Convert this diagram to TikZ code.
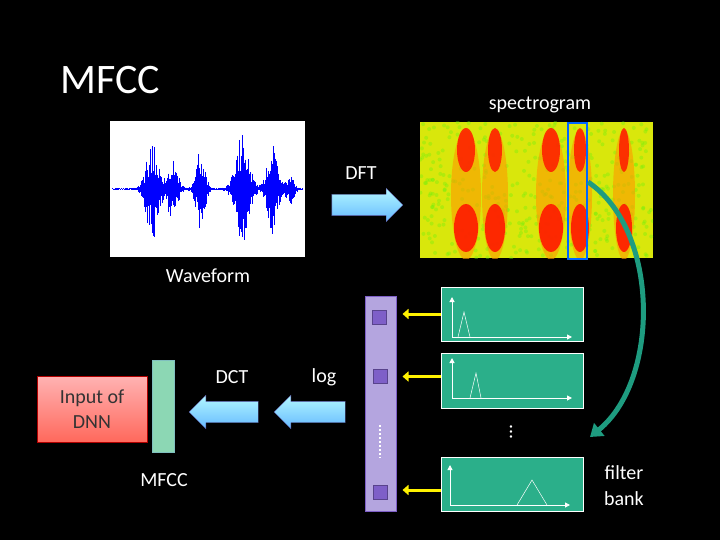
\documentclass[tikz,border=0pt]{standalone}
\usepackage{fontspec}
\setmainfont{Carlito}
\usetikzlibrary{arrows.meta,shapes.arrows}
\definecolor{fb}{HTML}{2BAF8A}
\definecolor{pur}{HTML}{B4A5DF}
\definecolor{purd}{HTML}{7E5FC8}
\definecolor{teal2}{HTML}{1E9C80}
\begin{document}
\begin{tikzpicture}[x=1pt,y=-1pt,
  txt/.style={text=white,font=\fontsize{20}{23}\selectfont,inner sep=0},
  fbox/.style={draw=white,line width=1pt,fill=fb},
  sq/.style={draw=purd!70!black,line width=1pt,fill=purd,minimum size=14pt,inner sep=0},
  yarr/.style={yellow,line width=3pt,-{Triangle[length=6pt,width=10pt]}},
  bigarr/.style={single arrow,draw=blue!30!gray,top color=blue!10!cyan!30!white,bottom color=cyan!55!blue!60!white,single arrow head extend=6pt,inner sep=0}]
\fill[black] (0,0) rectangle (720,540);
\useasboundingbox (0,0) rectangle (720,540);
\node[txt,font=\fontsize{42}{44}\selectfont] (title) at (110,80) {MFCC};
% waveform
\node[fill=white,minimum width=195pt,minimum height=136pt,inner sep=0] (wave) at (207.5,189) {};
\pgfmathsetseed{7}
\foreach \i in {0,...,190}{
  \pgfmathsetmacro{\x}{112+\i}
  \pgfmathsetmacro{\env}{1+50*exp(-((\x-152)/8)^2)+30*exp(-((\x-172)/7)^2)+55*exp(-((\x-242)/9)^2)+40*exp(-((\x-200)/6)^2)+45*exp(-((\x-272)/7)^2)+15*exp(-((\x-290)/5)^2)}
  \pgfmathsetmacro{\a}{\env*(0.3+0.7*rnd)}
  \pgfmathsetmacro{\b}{\env*(0.3+0.7*rnd)}
  \draw[blue,line width=0.8pt] (\x,189-\a) -- (\x,189+\b);
}
\node[txt] (wlab) at (208,276) {Waveform};
% spectrogram
\node[fill=yellow!85!green,minimum width=233pt,minimum height=136pt,inner sep=0] (spec) at (536.5,190) {};
\begin{scope}
\clip (420,122) rectangle (653,258);
\pgfmathsetseed{3}
\foreach \i in {0,...,400}{
  \pgfmathsetmacro{\x}{420+233*rnd}\pgfmathsetmacro{\y}{122+136*rnd}
  \fill[green!55!yellow!90!teal,opacity=0.35] (\x,\y) circle (2);
}
\foreach \cx/\w in {466/9,495/7,551/9,580/6,624/5}{
  \pgfmathsetmacro{\wa}{\w+6}\pgfmathsetmacro{\wb}{\w+3}
  \fill[orange!80!yellow,opacity=0.6] (\cx,195) ellipse [x radius=\wa, y radius=65];
  \fill[red!80!orange,opacity=0.85] (\cx,150) ellipse [x radius=\w, y radius=22];
  \fill[red!80!orange,opacity=0.9] (\cx,228) ellipse [x radius=\wb, y radius=24];
}
\end{scope}
\draw[blue!60!cyan,line width=2.5pt] (568,123) rectangle (587,259);
\node[txt] (slab) at (540,105) {spectrogram};
\node[bigarr] (dft) at (362,205) {\rule{60pt}{0pt}\rule{0pt}{21pt}};
\node[txt] (dftl) at (361,173) {DFT};
% filter bank
\node[fbox,minimum width=142pt,minimum height=54pt,inner sep=0] (f1) at (512,314) {};
\node[fbox,minimum width=142pt,minimum height=55pt,inner sep=0] (f2) at (512,380.5) {};
\node[fbox,minimum width=142pt,minimum height=54pt,inner sep=0] (f3) at (512,484) {};
\begin{scope}[white,line width=1pt]
\draw[-{Triangle[length=5pt,width=5pt]}] (452,337) -- (452,297);
\draw[-{Triangle[length=5pt,width=5pt]}] (452,337) -- (572,337);
\draw[line width=0.5pt] (458,337) -- (464,312) -- (470,337);
\draw[-{Triangle[length=5pt,width=5pt]}] (452,398) -- (452,358);
\draw[-{Triangle[length=5pt,width=5pt]}] (452,398) -- (572,398);
\draw[line width=0.5pt] (470,398) -- (476,373) -- (481,398);
\draw[-{Triangle[length=5pt,width=5pt]}] (450,505) -- (450,465);
\draw[-{Triangle[length=5pt,width=5pt]}] (450,505) -- (570,505);
\draw[line width=0.5pt] (517,505) -- (532,480) -- (547,505);
\end{scope}
\node[txt,rotate=90] (fdots) at (511,432) {...};
\node[txt,align=center] (fbl) at (624,486) {filter\\[3pt]bank};
% purple bar
\node[draw=purd,fill=pur,minimum width=31pt,minimum height=215pt,inner sep=0] (bar) at (380.5,403.5) {};
\node[sq] (s1) at (379,317) {};
\node[sq] (s2) at (380,376) {};
\node[sq] (s3) at (380,492) {};
\draw[white,line width=2pt,dash pattern=on 2pt off 2pt] (380,425) -- (380,458);
\draw[yarr] (f1.west) -- ++(-38,0) coordinate (y1);
\draw[yarr] (f2.west) ++(0,-4) -- ++(-38,0) coordinate (y2);
\draw[yarr] (f3.west) ++(0,6) -- ++(-38,0) coordinate (y3);
% curved arrow
\coordinate (ca) at (588,182);
\coordinate (cb) at (590,437);
\draw[teal2,line width=5pt,-{Triangle[length=12pt,width=16pt]}] (ca) .. controls (660,230) and (660,380) .. (cb);
% left arrows
\node[bigarr,shape border rotate=180] (logarr) at (315,412) {\rule{60pt}{0pt}\rule{0pt}{21pt}};
\node[txt] (logl) at (324,377) {log};
\node[bigarr,shape border rotate=180] (dctarr) at (229,412) {\rule{58pt}{0pt}\rule{0pt}{21pt}};
\node[txt] (dctl) at (232,377) {DCT};
\node[fill=green!30!teal!45!white,draw=teal!50!white,minimum width=22pt,minimum height=92pt,inner sep=0] (mb) at (163,406) {};
\node[txt] (ml) at (164,480) {MFCC};
\node[draw=red!70!black,top color=red!30!white,bottom color=red!60!white!90!orange,minimum width=110pt,minimum height=66pt,align=center,text=black!80,font=\fontsize{20}{22}\selectfont,inner sep=0] (dnn) at (92,409) {Input of\\[3pt]DNN};
\end{tikzpicture}
\end{document}
